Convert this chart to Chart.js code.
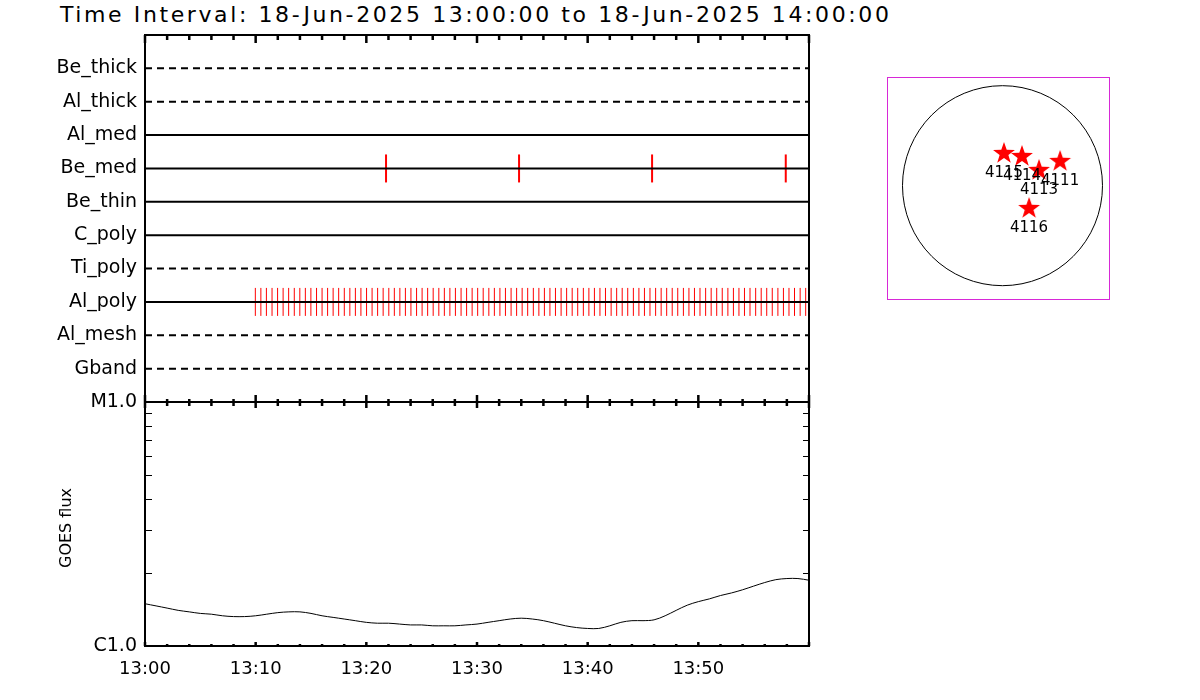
<!DOCTYPE html>
<html><head><meta charset="utf-8">
<script src="https://cdn.jsdelivr.net/npm/chart.js@4.4.1/dist/chart.umd.min.js"></script>
<style>
html,body{margin:0;padding:0;background:#fff;width:1200px;height:700px;overflow:hidden}
canvas{position:absolute;left:0;top:0}
#title{position:absolute;left:60px;top:2px;font:22px "DejaVu Sans";letter-spacing:2.6px;color:#000;white-space:nowrap;line-height:26px}
</style></head><body>
<div id="title">Time Interval: 18-Jun-2025 13:00:00 to 18-Jun-2025 14:00:00</div>
<canvas id="topc" width="1200" height="700"></canvas>
<canvas id="botc" width="1200" height="700"></canvas>
<canvas id="sunc" width="1200" height="700"></canvas>
<script>
// ---------- data ----------
// channel rows, bottom (row 1) to top (row 10)
const channels = ['Gband','Al_mesh','Al_poly','Ti_poly','C_poly','Be_thin','Be_med','Al_med','Al_thick','Be_thick'];
const dashedChannels = ['Be_thick','Al_thick','Ti_poly','Al_mesh','Gband'];
// event times, minutes after 13:00
const beMedTimes = [21.78, 33.80, 45.82, 57.90];
const alPolyTimes = [9.97,10.47,10.97,11.48,11.98,12.48,12.98,13.49,13.99,14.49,14.99,15.50,16.00,16.50,17.00,17.50,18.01,18.51,19.01,19.51,
  20.02,20.52,21.02,21.52,22.03,22.53,23.03,23.53,24.03,24.54,25.04,25.54,26.04,26.55,27.05,27.55,28.05,28.56,29.06,29.56,
  30.06,30.56,31.07,31.57,32.07,32.57,33.08,33.58,34.08,34.58,35.09,35.59,36.09,36.59,37.09,37.60,38.10,38.60,39.10,39.61,
  40.11,40.61,41.11,41.61,42.12,42.62,43.12,43.62,44.13,44.63,45.13,45.63,46.14,46.64,47.14,47.64,48.14,48.65,49.15,49.65,
  50.15,50.66,51.16,51.66,52.16,52.67,53.17,53.67,54.17,54.67,55.18,55.68,56.18,56.68,57.19,57.69,58.19,58.69,59.20,59.70];
// GOES flux (W/m^2), one value per minute
const goesMinutes = [0,1,2,3,4,5,6,7,8,9,10,11,12,13,14,15,16,17,18,19,20,21,22,23,24,25,26,27,28,29,30,
  31,32,33,34,35,36,37,38,39,40,41,42,43,44,45,46,47,48,49,50,51,52,53,54,55,56,57,58,59,60];
const goesFlux = [1.49e-6,1.46e-6,1.43e-6,1.40e-6,1.38e-6,1.36e-6,1.35e-6,1.33e-6,1.32e-6,1.32e-6,1.33e-6,
  1.35e-6,1.37e-6,1.38e-6,1.38e-6,1.36e-6,1.33e-6,1.31e-6,1.29e-6,1.27e-6,1.25e-6,
  1.24e-6,1.24e-6,1.23e-6,1.22e-6,1.22e-6,1.21e-6,1.21e-6,1.21e-6,1.22e-6,1.23e-6,
  1.25e-6,1.27e-6,1.29e-6,1.30e-6,1.29e-6,1.27e-6,1.24e-6,1.21e-6,1.19e-6,1.18e-6,
  1.18e-6,1.21e-6,1.25e-6,1.27e-6,1.27e-6,1.28e-6,1.33e-6,1.40e-6,1.47e-6,1.52e-6,
  1.56e-6,1.61e-6,1.65e-6,1.70e-6,1.76e-6,1.82e-6,1.87e-6,1.89e-6,1.89e-6,1.86e-6];
const timeLabels = ['13:00','13:10','13:20','13:30','13:40','13:50'];
const fluxLabels = {'1e-6':'C1.0','1e-5':'M1.0'};
// active regions on the disk (arcsec)
const arNumbers = ['4115','4114','4113','4111','4116'];
const arX = [14, 184, 345, 544, 251];
const arY = [309, 281, 149, 234, -211];
const solarCenter = [{x:0, y:0}];

// ---------- helpers ----------
Chart.defaults.font.family = '"DejaVu Sans", sans-serif';
Chart.defaults.color = '#000';

function frameTicks(id, topMaj, topMin, botMaj, botMin, yTicks){
  return {
    id,
    afterDraw(chart){
      const {ctx, chartArea:a, scales} = chart;
      ctx.save();
      ctx.strokeStyle = '#000';
      ctx.lineWidth = 2;
      ctx.strokeRect(a.left, a.top, a.right - a.left, a.bottom - a.top);
      const xs = scales.x;
      ctx.lineWidth = 2.5;
      ctx.beginPath();
      for (let m = 0; m <= 60; m += 2){
        const px = xs.getPixelForValue(m);
        const major = m % 10 === 0;
        const lt = major ? topMaj : topMin, lb = major ? botMaj : botMin;
        if (lt){ ctx.moveTo(px, a.top); ctx.lineTo(px, a.top + lt); }
        if (lb){ ctx.moveTo(px, a.bottom); ctx.lineTo(px, a.bottom - lb); }
      }
      ctx.stroke();
      if (yTicks){
        const ys = scales.y;
        ctx.lineWidth = 1;
        ctx.beginPath();
        ys.ticks.forEach(t => {
          const py = Math.round(ys.getPixelForValue(t.value)) + 0.5;
          ctx.moveTo(a.left, py); ctx.lineTo(a.left + 7, py);
          ctx.moveTo(a.right, py); ctx.lineTo(a.right - 6, py);
        });
        ctx.stroke();
      }
      ctx.restore();
    }
  };
}

// ---------- top panel: channel event ticks ----------
const rowOf = name => channels.indexOf(name) + 1;
const rowDatasets = channels.map(name => ({
  label: name,
  data: [{x:0, y:rowOf(name)}, {x:60, y:rowOf(name)}],
  showLine: true,
  borderColor: '#000',
  borderWidth: 2,
  borderDash: dashedChannels.includes(name) ? [7,5] : [],
  pointRadius: 0
}));
new Chart(document.getElementById('topc'), {
  type: 'scatter',
  data: { datasets: [
    ...rowDatasets,
    { label:'Be_med events', data: beMedTimes.map(t => ({x:t, y:rowOf('Be_med')})),
      pointStyle:'line', pointRotation:90, pointRadius:14, pointBorderWidth:2, pointBorderColor:'#ff0000', pointBackgroundColor:'#ff0000' },
    { label:'Al_poly events', data: alPolyTimes.map(t => ({x:t, y:rowOf('Al_poly')})),
      pointStyle:'line', pointRotation:90, pointRadius:14, pointBorderWidth:1, pointBorderColor:'#ff0000', pointBackgroundColor:'#ff0000' }
  ]},
  options: {
    responsive:false, animation:false, devicePixelRatio:1,
    layout:{ autoPadding:false, padding:{left:0, right:391, top:35, bottom:298} },
    plugins:{ legend:{display:false}, tooltip:{enabled:false} },
    scales:{
      x:{ type:'linear', min:0, max:60, display:false },
      y:{ type:'linear', min:0, max:11,
          afterFit: s => { s.width = 145; },
          grid:{display:false, drawTicks:false}, border:{display:false},
          ticks:{ stepSize:1, autoSkip:false, padding:8, font:{size:19},
                  callback: v => (v >= 1 && v <= 10) ? channels[v-1] : '' } }
    }
  },
  plugins:[frameTicks('frameTop', 8, 5, 7, 3, false)]
});

// ---------- bottom panel: GOES flux ----------
new Chart(document.getElementById('botc'), {
  type: 'line',
  data: { datasets: [{
    label:'GOES flux',
    data: goesMinutes.map((m,i) => ({x:m, y:goesFlux[i]})),
    borderColor:'#000', borderWidth:1, pointRadius:0, tension:0.35, fill:false
  }]},
  options: {
    responsive:false, animation:false, devicePixelRatio:1,
    layout:{ autoPadding:false, padding:{left:0, right:391, top:402, bottom:0} },
    plugins:{ legend:{display:false}, tooltip:{enabled:false} },
    scales:{
      x:{ type:'linear', min:0, max:60,
          afterFit: s => { s.height = 54; },
          grid:{display:false, drawTicks:false}, border:{display:false},
          ticks:{ stepSize:10, autoSkip:false, maxRotation:0, padding:13, font:{size:18},
                  callback: v => (v % 10 === 0 && v < 60) ? timeLabels[v/10] : '' } },
      y:{ type:'logarithmic', min:1e-6, max:1e-5,
          afterFit: s => { s.width = 145; },
          grid:{display:false, drawTicks:false}, border:{display:false},
          ticks:{ autoSkip:false, padding:8, font:{size:19},
                  callback: v => fluxLabels[Number(v).toExponential(0).replace('+','')] || '' } }
    }
  },
  plugins:[frameTicks('frameBot', 6, 4, 4, 2, true), {
    id:'ytitle',
    afterDraw(chart){
      const ctx = chart.ctx;
      ctx.save();
      ctx.translate(67, 528);
      ctx.rotate(-Math.PI/2);
      ctx.font = '16px "DejaVu Sans"';
      ctx.fillStyle = '#000';
      ctx.textAlign = 'center';
      ctx.textBaseline = 'middle';
      ctx.fillText('GOES flux', 0, 0);
      ctx.restore();
    }
  }]
});

// ---------- solar disk ----------
const starImg = document.createElement('canvas');
starImg.width = 24; starImg.height = 24;
(function(){
  const c = starImg.getContext('2d');
  c.fillStyle = '#ff0000';
  c.beginPath();
  for (let i = 0; i < 10; i++){
    const ang = -Math.PI/2 + i*Math.PI/5;
    const r = (i % 2 === 0) ? 11.5 : 4.6;
    const px = 12 + r*Math.cos(ang), py = 12.5 + r*Math.sin(ang);
    if (i === 0) c.moveTo(px, py); else c.lineTo(px, py);
  }
  c.closePath();
  c.fill();
})();

new Chart(document.getElementById('sunc'), {
  type:'scatter',
  data:{ datasets:[
    { label:'limb', data: solarCenter, pointStyle:'circle', pointRadius:100,
      pointBackgroundColor:'rgba(0,0,0,0)', pointBorderColor:'#000', pointBorderWidth:1 },
    { label:'AR', data: arNumbers.map((n,i) => ({x:arX[i], y:arY[i]})), pointStyle: starImg, pointRadius:12 }
  ]},
  options:{
    responsive:false, animation:false, devicePixelRatio:1,
    layout:{ autoPadding:false, padding:{left:887, right:91, top:77, bottom:401} },
    plugins:{ legend:{display:false}, tooltip:{enabled:false} },
    scales:{
      x:{ type:'linear', min:-1091, max:1006, display:false },
      y:{ type:'linear', min:-1071, max:1027, display:false }
    }
  },
  plugins:[{
    id:'sunDecor',
    beforeDatasetsDraw(chart){
      const {ctx, chartArea:a} = chart;
      ctx.save();
      ctx.strokeStyle = 'rgb(215,40,215)';
      ctx.lineWidth = 1;
      ctx.strokeRect(Math.round(a.left)+0.5, Math.round(a.top)+0.5, Math.round(a.right-a.left), Math.round(a.bottom-a.top));
      ctx.restore();
    },
    afterDatasetsDraw(chart){
      const ctx = chart.ctx;
      const meta = chart.getDatasetMeta(1);
      ctx.save();
      ctx.font = '15px "DejaVu Sans"';
      ctx.fillStyle = '#000';
      ctx.textAlign = 'center';
      ctx.textBaseline = 'middle';
      meta.data.forEach((pt,i) => ctx.fillText(arNumbers[i], pt.x, pt.y + 20));
      ctx.restore();
    }
  }]
});
</script>
</body></html>
